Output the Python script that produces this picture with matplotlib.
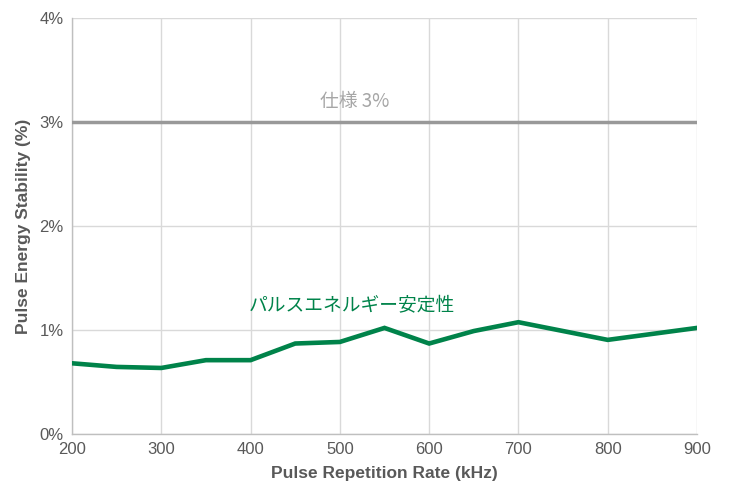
import matplotlib
matplotlib.use("Agg")
import matplotlib.pyplot as plt
from matplotlib.ticker import FuncFormatter

rates = [200, 250, 300, 350, 400, 450, 500, 550, 600, 650, 700, 800, 900]
stability = [0.68, 0.645, 0.635, 0.71, 0.71, 0.87, 0.885, 1.02, 0.87, 0.99, 1.075, 0.905, 1.02]
spec_value = 3.0
x_ticks = [200, 300, 400, 500, 600, 700, 800, 900]
y_ticks = [0, 1, 2, 3, 4]

plt.rcParams['font.family'] = ['Liberation Sans', 'Noto Sans CJK JP', 'DejaVu Sans']

fig = plt.figure(figsize=(7.29, 4.92), dpi=100)
ax = fig.add_axes([72/729, 58/492, (697-72)/729, (434-18)/492])

ax.set_xlim(200, 900)
ax.set_ylim(0, 4)
ax.set_xticks(x_ticks)
ax.set_yticks(y_ticks)
ax.yaxis.set_major_formatter(FuncFormatter(lambda v, p: f"{int(v)}%"))
ax.grid(True, color='#d9d9d9', linewidth=1.0)
ax.set_axisbelow(True)

for s in ['top', 'right']:
    ax.spines[s].set_visible(False)
for s in ['left', 'bottom']:
    ax.spines[s].set_color('#bfbfbf')
    ax.spines[s].set_linewidth(1.0)

ax.tick_params(axis='both', length=0, colors='#595959', labelsize=12, pad=6)

ax.axhline(spec_value, color='#999999', linewidth=2.5, zorder=3)
ax.plot(rates, stability, color='#00834a', linewidth=3.3, zorder=4, solid_joinstyle='miter')

ax.text(517, 3.2, '仕様 3%', color='#a6a6a6', fontsize=13.5, ha='center', va='center',
        family=['Noto Sans CJK JP', 'Liberation Sans'])
ax.text(513, 1.23, 'パルスエネルギー安定性', color='#00834a', fontsize=13.5, ha='center', va='center',
        family=['Noto Sans CJK JP', 'Liberation Sans'])

ax.set_xlabel('Pulse Repetition Rate (kHz)', color='#595959', fontsize=12.5, fontweight='bold', labelpad=6)
ax.set_ylabel('Pulse Energy Stability (%)', color='#595959', fontsize=12.5, fontweight='bold', labelpad=6)

fig.savefig('out.png', dpi=100)
